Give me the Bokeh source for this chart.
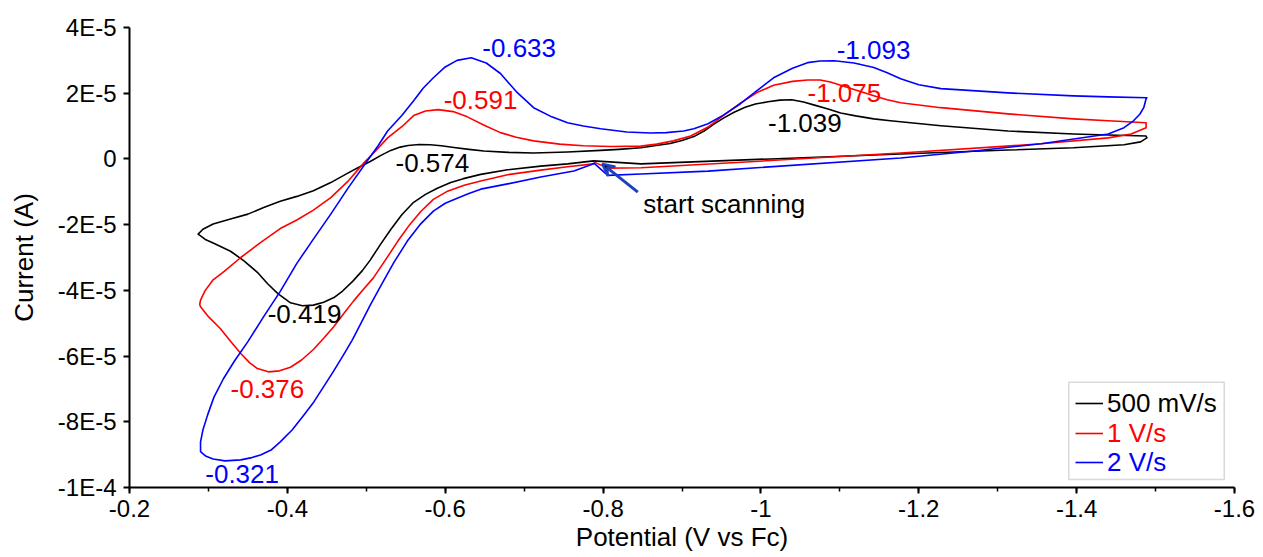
from bokeh.plotting import figure
from bokeh.models import (Range1d, SingleIntervalTicker, CustomJSTickFormatter,
                          Legend, LegendItem, Arrow, VeeHead, ColumnDataSource, BoxAnnotation)
from bokeh.core.properties import value
from bokeh.embed import file_html
from bokeh.resources import INLINE

# ---------------- data (potential in V vs Fc, current in A) ----------------
pot_500 = [-0.788, -0.848, -1.012, -1.177, -1.313, -1.396, -1.460, -1.481, -1.489,
           -1.488, -1.440, -1.396, -1.313, -1.228, -1.164, -1.143, -1.120, -1.101, -1.085,
           -1.069, -1.054, -1.039, -1.024, -1.009, -0.993, -0.980, -0.966, -0.953, -0.940,
           -0.928, -0.915, -0.900, -0.885, -0.865, -0.848, -0.820, -0.797, -0.755, -0.712,
           -0.680, -0.649, -0.630, -0.611, -0.595, -0.581, -0.567, -0.553, -0.543, -0.531,
           -0.518, -0.505, -0.490, -0.476, -0.455, -0.433, -0.412, -0.391, -0.370, -0.350,
           -0.328, -0.306, -0.293, -0.287,
           -0.296, -0.306, -0.328, -0.345, -0.362, -0.375, -0.388, -0.404, -0.419, -0.433,
           -0.446, -0.459, -0.470, -0.483, -0.495, -0.505, -0.518, -0.531, -0.545, -0.560,
           -0.575, -0.590, -0.607, -0.623, -0.645, -0.679, -0.721, -0.755, -0.788]
cur_500 = [-0.06e-5, -0.15e-5, 0.00e-5, 0.15e-5, 0.27e-5, 0.34e-5, 0.43e-5, 0.52e-5, 0.64e-5,
           0.70e-5, 0.73e-5, 0.76e-5, 0.85e-5, 1.01e-5, 1.16e-5, 1.22e-5, 1.31e-5, 1.40e-5, 1.52e-5,
           1.63e-5, 1.73e-5, 1.80e-5, 1.79e-5, 1.74e-5, 1.67e-5, 1.57e-5, 1.42e-5, 1.25e-5, 1.05e-5,
           0.85e-5, 0.68e-5, 0.56e-5, 0.47e-5, 0.40e-5, 0.34e-5, 0.29e-5, 0.26e-5, 0.21e-5, 0.18e-5,
           0.20e-5, 0.24e-5, 0.29e-5, 0.35e-5, 0.40e-5, 0.43e-5, 0.44e-5, 0.41e-5, 0.36e-5, 0.26e-5,
           0.10e-5, -0.08e-5, -0.26e-5, -0.44e-5, -0.72e-5, -0.97e-5, -1.14e-5, -1.29e-5, -1.48e-5, -1.68e-5,
           -1.83e-5, -1.98e-5, -2.14e-5, -2.29e-5,
           -2.45e-5, -2.56e-5, -2.81e-5, -3.10e-5, -3.45e-5, -3.80e-5, -4.10e-5, -4.38e-5, -4.47e-5, -4.45e-5,
           -4.36e-5, -4.22e-5, -4.02e-5, -3.72e-5, -3.40e-5, -3.08e-5, -2.60e-5, -2.15e-5, -1.70e-5, -1.32e-5,
           -1.08e-5, -0.89e-5, -0.72e-5, -0.60e-5, -0.47e-5, -0.33e-5, -0.22e-5, -0.15e-5, -0.06e-5]

pot_1 = [-0.788, -0.806, -0.848, -1.012, -1.177, -1.355, -1.440, -1.469, -1.488,
         -1.488, -1.440, -1.396, -1.313, -1.228, -1.177, -1.160, -1.143, -1.122, -1.101,
         -1.088, -1.075, -1.059, -1.040, -1.016, -0.995, -0.974, -0.953, -0.933, -0.911,
         -0.889, -0.868, -0.848, -0.810, -0.775, -0.745, -0.712, -0.690, -0.670, -0.650,
         -0.628, -0.610, -0.591, -0.575, -0.560, -0.545, -0.527, -0.512, -0.497, -0.476,
         -0.455, -0.433, -0.412, -0.391, -0.365, -0.341, -0.320, -0.306, -0.296, -0.290, -0.289,
         -0.290, -0.300, -0.315, -0.328, -0.341, -0.352, -0.362, -0.376, -0.390, -0.404,
         -0.418, -0.433, -0.446, -0.459, -0.471, -0.484, -0.497, -0.509, -0.525, -0.540,
         -0.555, -0.569, -0.585, -0.603, -0.624, -0.645, -0.679, -0.721, -0.755, -0.788]
cur_1 = [-0.09e-5, -0.28e-5, -0.27e-5, -0.05e-5, 0.18e-5, 0.46e-5, 0.64e-5, 0.76e-5, 0.95e-5,
         1.10e-5, 1.16e-5, 1.22e-5, 1.37e-5, 1.56e-5, 1.71e-5, 1.80e-5, 1.92e-5, 2.08e-5, 2.24e-5,
         2.34e-5, 2.40e-5, 2.40e-5, 2.36e-5, 2.24e-5, 2.02e-5, 1.70e-5, 1.33e-5, 0.97e-5, 0.70e-5,
         0.55e-5, 0.45e-5, 0.39e-5, 0.38e-5, 0.40e-5, 0.45e-5, 0.55e-5, 0.66e-5, 0.80e-5, 1.02e-5,
         1.28e-5, 1.44e-5, 1.50e-5, 1.46e-5, 1.32e-5, 0.98e-5, 0.64e-5, 0.25e-5, -0.12e-5, -0.70e-5,
         -1.18e-5, -1.56e-5, -1.86e-5, -2.12e-5, -2.56e-5, -3.00e-5, -3.42e-5, -3.68e-5, -4.00e-5, -4.30e-5, -4.43e-5,
         -4.50e-5, -4.80e-5, -5.16e-5, -5.55e-5, -5.92e-5, -6.20e-5, -6.38e-5, -6.48e-5, -6.45e-5, -6.34e-5,
         -6.12e-5, -5.80e-5, -5.46e-5, -5.10e-5, -4.72e-5, -4.32e-5, -3.95e-5, -3.62e-5, -3.05e-5, -2.50e-5,
         -2.00e-5, -1.60e-5, -1.23e-5, -0.98e-5, -0.80e-5, -0.67e-5, -0.48e-5, -0.34e-5, -0.24e-5, -0.15e-5]

pot_2 = [-0.788, -0.806, -0.848, -0.933, -1.177, -1.270, -1.355, -1.440, -1.460, -1.472,
         -1.480, -1.485, -1.488,
         -1.489, -1.440, -1.396, -1.313, -1.228, -1.200, -1.177, -1.160, -1.143, -1.118,
         -1.093, -1.075, -1.059, -1.040, -1.016, -0.995, -0.974, -0.953, -0.933, -0.915,
         -0.902, -0.880, -0.860, -0.830, -0.797, -0.775, -0.755, -0.735, -0.712, -0.690,
         -0.670, -0.652, -0.633, -0.615, -0.600, -0.585, -0.572, -0.560, -0.545, -0.527,
         -0.515, -0.502, -0.476, -0.455, -0.433, -0.412, -0.391, -0.370, -0.350, -0.333,
         -0.319, -0.307, -0.299, -0.293, -0.290, -0.290,
         -0.290, -0.297, -0.306, -0.321, -0.341, -0.355, -0.366, -0.380, -0.391, -0.406,
         -0.421, -0.434, -0.446, -0.458, -0.470, -0.482, -0.493, -0.505, -0.518, -0.535,
         -0.552, -0.568, -0.585, -0.600, -0.616, -0.630, -0.645, -0.679, -0.721, -0.763, -0.788]
cur_2 = [-0.12e-5, -0.50e-5, -0.46e-5, -0.37e-5, 0.03e-5, 0.24e-5, 0.46e-5, 0.76e-5, 0.95e-5, 1.16e-5,
         1.36e-5, 1.56e-5, 1.83e-5,
         1.86e-5, 1.89e-5, 1.92e-5, 2.01e-5, 2.14e-5, 2.26e-5, 2.44e-5, 2.62e-5, 2.78e-5, 2.92e-5,
         2.99e-5, 2.98e-5, 2.93e-5, 2.76e-5, 2.47e-5, 2.08e-5, 1.68e-5, 1.34e-5, 1.07e-5, 0.92e-5,
         0.85e-5, 0.80e-5, 0.79e-5, 0.82e-5, 0.92e-5, 1.00e-5, 1.10e-5, 1.28e-5, 1.56e-5, 2.05e-5,
         2.60e-5, 2.92e-5, 3.08e-5, 3.00e-5, 2.80e-5, 2.47e-5, 2.15e-5, 1.77e-5, 1.32e-5, 0.85e-5,
         0.40e-5, -0.03e-5, -0.92e-5, -1.68e-5, -2.44e-5, -3.18e-5, -4.03e-5, -4.80e-5, -5.56e-5, -6.15e-5,
         -6.69e-5, -7.25e-5, -7.79e-5, -8.25e-5, -8.61e-5, -8.82e-5,
         -8.91e-5, -9.05e-5, -9.13e-5, -9.19e-5, -9.16e-5, -9.09e-5, -9.01e-5, -8.85e-5, -8.61e-5, -8.25e-5,
         -7.79e-5, -7.38e-5, -6.93e-5, -6.48e-5, -6.01e-5, -5.52e-5, -5.01e-5, -4.45e-5, -3.88e-5, -3.15e-5,
         -2.50e-5, -2.00e-5, -1.59e-5, -1.35e-5, -1.19e-5, -1.05e-5, -0.92e-5, -0.76e-5, -0.55e-5, -0.37e-5, -0.15e-5]

series_names = ["500 mV/s", "1 V/s", "2 V/s"]
series_colors = ["#000000", "#ff0000", "#0000ff"]

peak_text = ["-0.633", "-1.093", "-0.591", "-1.075", "-1.039", "-0.574", "-0.419", "-0.376", "-0.321"]
peak_text_x = [-0.647, -1.096, -0.598, -1.059, -1.009, -0.537, -0.375, -0.328, -0.296]
peak_text_y = [3.39e-5, 3.33e-5, 1.80e-5, 2.01e-5, 1.10e-5, -0.12e-5, -4.73e-5, -6.99e-5, -9.59e-5]
peak_text_color = ["#0000ff", "#0000ff", "#ff0000", "#ff0000", "#000000", "#000000",
                   "#000000", "#ff0000", "#0000ff"]

note_text = ["start scanning"]
note_x = [-0.851]
note_y = [-1.37e-5]
arrow_start = (-0.844, -1.01e-5)
arrow_end = (-0.799, -0.15e-5)

FONT = "Liberation Sans"

p = figure(width=1263, height=557, output_backend="svg", toolbar_location=None,
           x_range=Range1d(-0.2, -1.6), y_range=Range1d(-1e-4, 4e-5),
           min_border_left=129, min_border_right=29, min_border_top=27, min_border_bottom=70)
p.xgrid.visible = False
p.ygrid.visible = False
p.outline_line_color = None
p.background_fill_color = "white"
p.border_fill_color = "white"

renderers = []
for xs, ys, c in zip([pot_500, pot_1, pot_2], [cur_500, cur_1, cur_2], series_colors):
    r = p.line(xs, ys, line_color=c, line_width=1.6, line_join="round")
    renderers.append(r)

# axes
xa = p.xaxis[0]
xa.ticker = SingleIntervalTicker(interval=0.2, num_minor_ticks=2)
xa.formatter = CustomJSTickFormatter(code="return String(Math.round(tick*10)/10);")
xa.axis_label = "Potential (V vs Fc)"
ya = p.yaxis[0]
ya.ticker = SingleIntervalTicker(interval=2e-5, num_minor_ticks=0)
ya.formatter = CustomJSTickFormatter(code="""
if (Math.abs(tick) < 1e-12) { return "0"; }
const e = Math.floor(Math.log10(Math.abs(tick)) + 1e-9);
const m = Math.round(tick / Math.pow(10, e));
return m + "E" + e;
""")
ya.axis_label = "Current (A)"
for ax in (xa, ya):
    ax.axis_line_width = 2
    ax.axis_line_color = "black"
    ax.major_tick_line_width = 2
    ax.minor_tick_line_width = 1.5
    ax.major_tick_out = 6
    ax.major_tick_in = 0
    ax.minor_tick_out = 4
    ax.minor_tick_in = 0
    ax.major_label_text_font = FONT
    ax.major_label_text_font_size = "24px"
    ax.major_label_text_color = "black"
    ax.axis_label_text_font = FONT
    ax.axis_label_text_font_size = "26px"
    ax.axis_label_text_font_style = "normal"
    ax.axis_label_text_color = "black"
xa.major_label_standoff = 6
xa.axis_label_standoff = 2
ya.major_label_standoff = 7
ya.axis_label_standoff = 16

# peak annotations
src = ColumnDataSource(dict(x=peak_text_x, y=peak_text_y, t=peak_text, c=peak_text_color))
p.text(x="x", y="y", text="t", text_color="c", source=src, text_font=value(FONT),
       text_font_size="26px", text_align="left", text_baseline="middle")
p.text(x=note_x, y=note_y, text=note_text, text_color="black", text_font=value(FONT),
       text_font_size="26px", text_align="left", text_baseline="middle")
p.add_layout(Arrow(end=VeeHead(size=12, line_color="#1f3fbf", line_width=2.5),
                   x_start=arrow_start[0], y_start=arrow_start[1],
                   x_end=arrow_end[0], y_end=arrow_end[1],
                   line_color="#1f3fbf", line_width=3))

# legend: grey frame + one coloured entry per row
p.add_layout(BoxAnnotation(left=-1.390, right=-1.587, top=-6.80e-5, bottom=-9.76e-5,
                           fill_color="white", fill_alpha=1, line_color="#808080",
                           line_width=1.5, level="annotation"))
row_offsets = [68, 38, 9]
for n, r, c, oy in zip(series_names, renderers, series_colors, row_offsets):
    lg = Legend(items=[LegendItem(label=n, renderers=[r])], location=(946, oy),
                padding=0, spacing=0, margin=0, glyph_width=28, glyph_height=32,
                label_height=32, label_width=110, label_standoff=4,
                label_text_font=FONT, label_text_font_size="26px",
                label_text_color=c, border_line_alpha=0, background_fill_alpha=0)
    p.add_layout(lg)

open("out.html", "w").write(file_html(p, INLINE))
